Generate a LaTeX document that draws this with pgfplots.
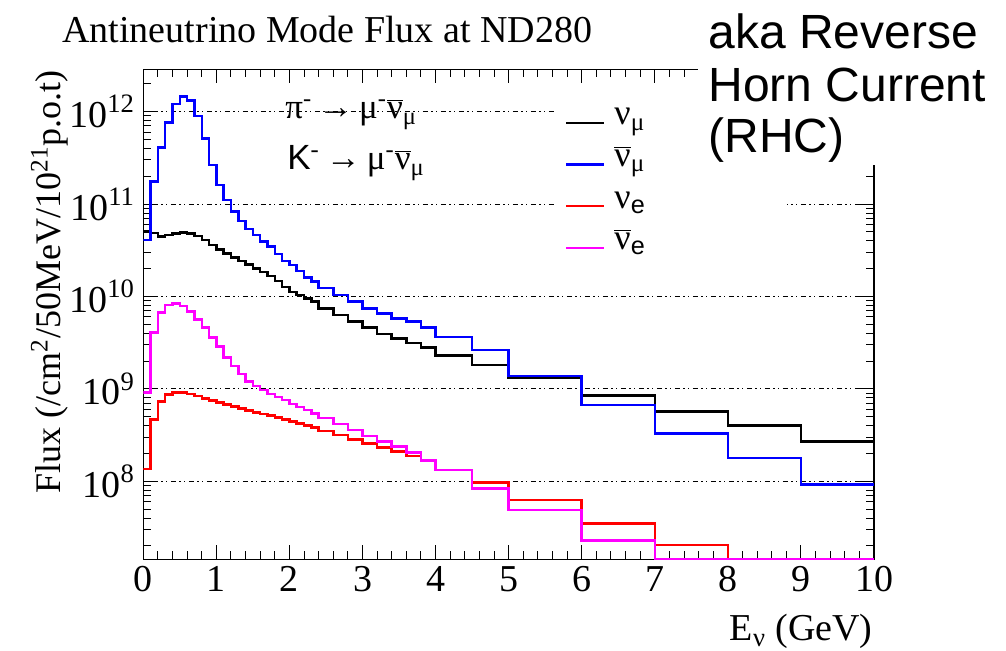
\documentclass[border=0pt]{standalone}
\usepackage{pgfplots}
\pgfplotsset{compat=1.18}
\usepackage{pgfplotstable}
\usepackage{fontspec}
\setmainfont{Liberation Serif}
\newfontfamily\arial{Liberation Sans}
\newcommand{\fs}[1]{\fontsize{#1bp}{#1bp}\selectfont}
\newcommand{\barnu}{\(\overline{\mbox{ν}}\)}
\definecolor{rootblue}{RGB}{0,0,255}
\definecolor{rootred}{RGB}{255,0,0}
\definecolor{rootmag}{RGB}{255,0,255}

\pgfplotstableread{
x    numu    numubar  nue      nuebar
0.0  5.03e10 4.09e10  1.35e8   9.10e8
0.1  4.87e10 1.75e11  4.69e8   4.10e9
0.2  4.44e10 4.08e11  7.27e8   6.68e9
0.3  4.63e10 7.60e11  8.74e8   8.09e9
0.4  4.83e10 1.21e12  9.19e8   8.44e9
0.5  4.90e10 1.45e12  9.19e8   7.89e9
0.6  4.81e10 1.32e12  8.81e8   6.85e9
0.7  4.52e10 8.99e11  8.38e8   5.66e9
0.8  4.09e10 5.15e11  7.91e8   4.60e9
0.9  3.61e10 2.65e11  7.45e8   3.62e9
1.0  3.24e10 1.61e11  7.09e8   2.86e9
1.1  2.93e10 1.11e11  6.81e8   2.18e9
1.2  2.63e10 8.28e10  6.42e8   1.77e9
1.3  2.42e10 6.56e10  6.17e8   1.44e9
1.4  2.22e10 5.38e10  5.81e8   1.20e9
1.5  2.02e10 4.63e10  5.58e8   1.075e9
1.6  1.84e10 3.92e10  5.35e8   9.73e8
1.7  1.67e10 3.46e10  5.13e8   8.81e8
1.8  1.47e10 2.88e10  4.90e8   8.17e8
1.9  1.27e10 2.42e10  4.67e8   7.59e8
2.0  1.12e10 2.19e10  4.42e8   6.87e8
2.1  1.04e10 1.89e10  4.24e8   6.37e8
2.2  9.52e9  1.60e10  4.00e8   5.91e8
2.3  8.78e9  1.45e10  3.84e8   5.42e8
2.4  7.45e9  1.23e10  3.50e8   4.84e8
2.6  6.31e9  1.04e10  3.17e8   4.17e8
2.8  5.34e9  8.78e9   2.85e8   3.59e8
3.0  4.64e9  7.45e9   2.58e8   3.09e8
3.2  3.93e9  6.58e9   2.31e8   2.70e8
3.4  3.51e9  5.81e9   2.10e8   2.37e8
3.6  3.12e9  5.34e9   1.88e8   2.04e8
3.8  2.79e9  4.62e9   1.65e8   1.67e8
4.0  2.30e9  3.65e9   1.33e8   1.32e8
4.5  1.81e9  2.64e9   9.75e7   8.40e7
5.0  1.32e9  1.38e9   6.28e7   4.89e7
6.0  8.44e8  6.69e8   3.51e7   2.28e7
7.0  5.72e8  3.27e8   2.05e7   1.432e7
8.0  4.00e8  1.79e8   1.432e7  1.432e7
9.0  2.68e8  9.19e7   1.432e7  1.432e7
10.0 2.68e8  9.19e7   1.432e7  1.432e7
}\flux

\begin{document}
\begin{tikzpicture}
\useasboundingbox (0,0) rectangle (503bp,325.5bp);
\begin{axis}[
  at={(71.65bp,45.85bp)}, anchor=south west,
  scale only axis, width=365.35bp, height=244.9bp,
  xmin=0, xmax=10, ymode=log, ymin=1.432e7, ymax=2.86e12,
  xtick={0,1,2,3,4,5,6,7,8,9,10},
  xticklabels={0,1,2,3,4,5,6,7,8,9,10},
  minor x tick num=4,
  ytick={1e8,1e9,1e10,1e11,1e12},
  yticklabels={10\textsuperscript{8},10\textsuperscript{9},10\textsuperscript{10},10\textsuperscript{11},10\textsuperscript{12}},
  minor ytick={2e7,3e7,4e7,5e7,6e7,7e7,8e7,9e7,2e8,3e8,4e8,5e8,6e8,7e8,8e8,9e8,2e9,3e9,4e9,5e9,6e9,7e9,8e9,9e9,2e10,3e10,4e10,5e10,6e10,7e10,8e10,9e10,2e11,3e11,4e11,5e11,6e11,7e11,8e11,9e11,2e12},
  tick align=inside,
  major tick length=7bp, minor tick length=4bp,
  every tick/.style={black, line width=0.5bp},
  axis line style={black, line width=0.6bp},
  ymajorgrids,
  major grid style={black, line width=0.4bp, dash pattern=on 0.6bp off 1.8bp on 0.6bp off 1.8bp on 2.4bp off 1.8bp},
  /pgf/number format/assume math mode=true,
  ticklabel style={font=\fs{19}},
  yticklabel style={inner sep=0pt, anchor=east, xshift=-4bp},
  xticklabel style={inner sep=0pt, anchor=north, yshift=-3.5bp},
  legend style={at={(0.5771,0.9398)}, anchor=north west, draw=none, fill=none,
    inner sep=0pt, outer sep=0pt, font=\fs{18}, row sep=0pt,
    nodes={inner sep=0pt, text height=13bp, text depth=7.8bp},
    cells={anchor=base west}},
  legend image code/.code={\draw[#1] (0bp,1bp) -- (19bp,1bp); \path (0bp,0bp) (23.5bp,0bp);},
]
\fill[white] (rel axis cs:0.566,0.942) rectangle (rel axis cs:0.881,0.560);
\addplot[const plot, black, line width=1.25bp] table[x=x,y=numu]{\flux};
\addlegendentry{ν\textsubscript{μ}}
\addplot[const plot, rootblue, line width=1.25bp] table[x=x,y=numubar]{\flux};
\addlegendentry{\barnu\textsubscript{μ}}
\addplot[const plot, rootred, line width=1.25bp] table[x=x,y=nue]{\flux};
\addlegendentry{ν\textsubscript{\arial e}}
\addplot[const plot, rootmag, line width=1.25bp] table[x=x,y=nuebar]{\flux};
\addlegendentry{\barnu\textsubscript{\arial e}}
\end{axis}
\fill[white] (349bp,243bp) rectangle (503bp,325.5bp);
\node[anchor=base west, inner sep=0pt, font=\fs{19}] at (31bp,304bp) {Antineutrino Mode Flux at ND280};
\node[anchor=base west, inner sep=0pt, font=\arial\fs{24}] at (354bp,301bp) {aka Reverse};
\node[anchor=base west, inner sep=0pt, font=\arial\fs{24}] at (354bp,274.5bp) {Horn Current};
\node[anchor=base west, inner sep=0pt, font=\arial\fs{24}] at (354bp,249bp) {(RHC)};
\node[anchor=base east, inner sep=0pt, font=\fs{19}] at (436.5bp,5.5bp) {E\textsubscript{ν} (GeV)};
\node[rotate=90, anchor=base east, inner sep=0pt, font=\fs{18}] at (30bp,290.5bp) {Flux (/cm\textsuperscript{2}/50MeV/10\textsuperscript{21}p.o.t)};
\node[anchor=base west, inner sep=0pt, font=\fs{17.5}] at (142.5bp,266bp) {π\textsuperscript{-}\hspace{3bp}→\hspace{3bp}μ\textsuperscript{-}\barnu\textsubscript{μ}};
\node[anchor=base west, inner sep=0pt, font=\fs{17.5}] at (143.5bp,240.5bp) {{\arial K}\textsuperscript{-}\hspace{3bp}→\hspace{3bp}μ\textsuperscript{-}\barnu\textsubscript{μ}};
\end{tikzpicture}
\end{document}
